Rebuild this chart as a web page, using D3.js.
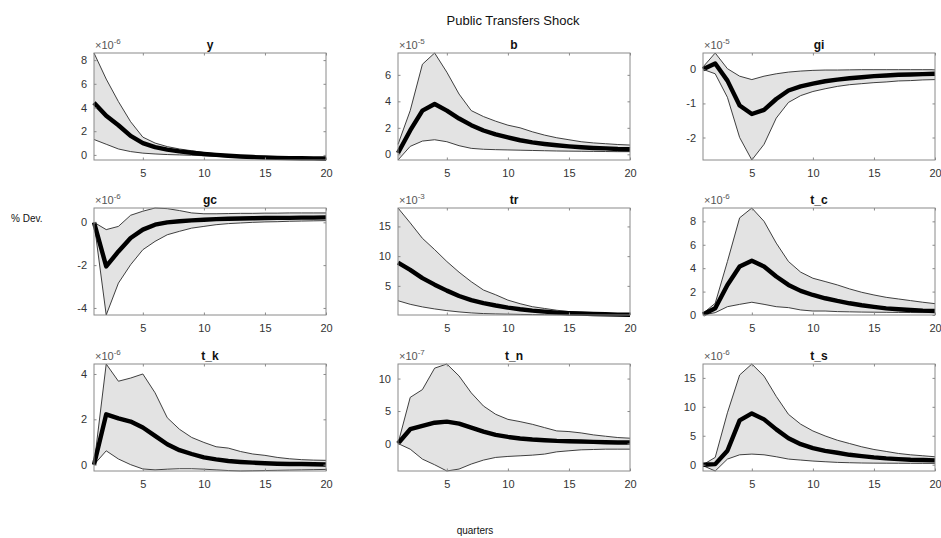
<!DOCTYPE html>
<html>
<head>
<meta charset="utf-8">
<script src="https://cdn.jsdelivr.net/npm/d3@7"></script>
<style>
  html, body { margin: 0; padding: 0; background: #fff; }
  svg { display: block; font-family: "Liberation Sans", Arial, sans-serif; }
</style>
</head>
<body>
<svg id="chart" width="941" height="538"></svg>
<script>
// Impulse responses to a public transfers shock, quarters 1..20.
// Values are in units of 10^exponent (see panelExponents).
const quarters = d3.range(1, 21);
const panelNames = ["y", "b", "gi", "gc", "tr", "t_c", "t_k", "t_n", "t_s"];
const panelExponents = [-6, -5, -5, -6, -3, -6, -6, -7, -6];
const xTicks = [5, 10, 15, 20];
const yTicks = [
  [0, 2, 4, 6, 8],
  [0, 2, 4, 6],
  [-2, -1, 0],
  [-4, -2, 0],
  [5, 10, 15],
  [0, 2, 4, 6, 8],
  [0, 2, 4],
  [0, 5, 10],
  [0, 5, 10, 15]
];

// median responses
const median_y  = [4.4, 3.3, 2.5, 1.6, 1.0, 0.65, 0.45, 0.3, 0.18, 0.08, 0.0, -0.07, -0.13, -0.18, -0.22, -0.25, -0.27, -0.28, -0.29, -0.3];
const median_b  = [0.1, 1.8, 3.3, 3.8, 3.3, 2.7, 2.2, 1.8, 1.5, 1.27, 1.06, 0.9, 0.78, 0.68, 0.6, 0.53, 0.48, 0.45, 0.4, 0.38];
const median_gi = [0.0, 0.17, -0.33, -1.06, -1.31, -1.19, -0.87, -0.62, -0.5, -0.42, -0.35, -0.3, -0.26, -0.23, -0.2, -0.18, -0.16, -0.15, -0.14, -0.13];
const median_gc = [0.0, -2.06, -1.36, -0.73, -0.34, -0.11, 0.0, 0.05, 0.09, 0.12, 0.15, 0.17, 0.18, 0.19, 0.2, 0.21, 0.21, 0.22, 0.22, 0.23];
const median_tr = [8.9, 7.7, 6.3, 5.2, 4.2, 3.3, 2.6, 2.1, 1.7, 1.35, 1.07, 0.84, 0.67, 0.5, 0.4, 0.34, 0.28, 0.22, 0.17, 0.15];
const median_tc = [0.05, 0.57, 2.57, 4.14, 4.63, 4.14, 3.29, 2.57, 2.06, 1.71, 1.43, 1.2, 1.0, 0.83, 0.69, 0.57, 0.49, 0.43, 0.37, 0.34];
const median_tk = [0.0, 2.22, 2.04, 1.9, 1.64, 1.27, 0.9, 0.64, 0.47, 0.32, 0.23, 0.16, 0.12, 0.09, 0.06, 0.04, 0.03, 0.03, 0.02, 0.01];
const median_tn = [0.0, 2.2, 2.7, 3.2, 3.37, 3.06, 2.45, 1.84, 1.33, 1.02, 0.77, 0.61, 0.51, 0.41, 0.36, 0.31, 0.26, 0.2, 0.15, 0.15];
const median_ts = [0.0, 0.1, 2.4, 7.66, 8.86, 7.83, 6.1, 4.57, 3.54, 2.86, 2.4, 2.06, 1.71, 1.49, 1.26, 1.09, 0.97, 0.86, 0.8, 0.74];

// upper bounds of the confidence bands
const upper_y  = [8.6, 6.4, 4.5, 2.8, 1.5, 1.0, 0.7, 0.5, 0.35, 0.2, 0.1, 0.0, -0.07, -0.12, -0.16, -0.19, -0.21, -0.22, -0.23, -0.24];
const upper_b  = [0.75, 3.3, 6.8, 7.65, 6.2, 4.55, 3.3, 2.85, 2.5, 2.2, 2.0, 1.7, 1.45, 1.25, 1.1, 0.95, 0.86, 0.8, 0.74, 0.7];
const upper_gi = [0.07, 0.48, 0.02, -0.2, -0.3, -0.2, -0.13, -0.08, -0.05, -0.03, -0.02, -0.02, -0.015, -0.01, -0.01, -0.01, -0.01, -0.01, -0.01, -0.01];
const upper_gc = [0.0, -0.34, -0.19, 0.33, 0.52, 0.67, 0.64, 0.55, 0.44, 0.4, 0.4, 0.41, 0.42, 0.42, 0.43, 0.43, 0.44, 0.44, 0.44, 0.44];
const upper_tr = [18.1, 15.6, 13.0, 11.1, 9.1, 7.3, 5.7, 4.3, 3.5, 2.6, 2.0, 1.5, 1.2, 0.9, 0.67, 0.5, 0.4, 0.34, 0.28, 0.28];
const upper_tc = [0.14, 1.0, 4.57, 8.3, 9.14, 8.0, 6.14, 4.57, 3.66, 3.14, 2.86, 2.57, 2.23, 1.94, 1.71, 1.51, 1.37, 1.23, 1.09, 0.97];
const upper_tk = [0.0, 4.44, 3.68, 3.82, 4.0, 3.17, 2.07, 1.56, 1.2, 0.98, 0.79, 0.73, 0.58, 0.47, 0.41, 0.32, 0.26, 0.22, 0.2, 0.19];
const upper_tn = [0.0, 7.1, 8.3, 11.6, 12.24, 10.4, 7.8, 5.77, 4.5, 3.72, 3.37, 2.96, 2.45, 1.94, 1.84, 1.63, 1.33, 1.12, 0.92, 0.82];
const upper_ts = [0.0, 1.26, 8.97, 15.5, 17.4, 15.3, 11.8, 8.7, 7.0, 5.83, 4.97, 4.23, 3.66, 3.09, 2.63, 2.29, 1.94, 1.71, 1.54, 1.37];

// lower bounds of the confidence bands
const lower_y  = [1.3, 0.9, 0.5, 0.28, 0.15, 0.08, 0.03, 0.0, -0.03, -0.07, -0.12, -0.17, -0.22, -0.27, -0.3, -0.33, -0.36, -0.38, -0.4, -0.43];
const lower_b  = [-0.43, 0.6, 1.0, 1.1, 0.95, 0.65, 0.45, 0.38, 0.35, 0.33, 0.31, 0.29, 0.27, 0.25, 0.24, 0.23, 0.22, 0.21, 0.2, 0.2];
const lower_gi = [0.0, -0.13, -0.82, -2.0, -2.66, -2.2, -1.43, -0.97, -0.77, -0.65, -0.57, -0.5, -0.45, -0.42, -0.39, -0.37, -0.34, -0.33, -0.31, -0.3];
const lower_gc = [0.0, -4.33, -2.84, -1.98, -1.28, -0.89, -0.58, -0.42, -0.27, -0.19, -0.11, -0.06, -0.03, 0.0, 0.02, 0.03, 0.05, 0.06, 0.07, 0.08];
const lower_tr = [2.5, 1.9, 1.46, 1.12, 0.84, 0.62, 0.45, 0.34, 0.28, 0.24, 0.2, 0.17, 0.15, 0.13, 0.12, 0.11, 0.1, 0.1, 0.1, 0.1];
const lower_tc = [0.0, 0.2, 0.71, 0.91, 1.09, 0.91, 0.71, 0.63, 0.43, 0.34, 0.34, 0.29, 0.27, 0.25, 0.24, 0.23, 0.22, 0.21, 0.2, 0.2];
const lower_tk = [0.0, 0.61, 0.25, 0.0, -0.19, -0.23, -0.2, -0.18, -0.18, -0.2, -0.23, -0.26, -0.28, -0.27, -0.26, -0.25, -0.24, -0.23, -0.22, -0.21];
const lower_tn = [0.0, -0.87, -2.4, -3.27, -4.23, -3.93, -3.16, -2.55, -2.14, -1.99, -1.89, -1.79, -1.63, -1.28, -1.12, -0.97, -0.92, -0.87, -0.87, -0.87];
const lower_ts = [-0.17, -1.09, 0.97, 1.71, 1.83, 1.71, 1.37, 0.97, 0.8, 0.63, 0.51, 0.4, 0.34, 0.29, 0.27, 0.26, 0.25, 0.24, 0.23, 0.23];

const medians = [median_y, median_b, median_gi, median_gc, median_tr, median_tc, median_tk, median_tn, median_ts];
const uppers  = [upper_y, upper_b, upper_gi, upper_gc, upper_tr, upper_tc, upper_tk, upper_tn, upper_ts];
const lowers  = [lower_y, lower_b, lower_gi, lower_gc, lower_tr, lower_tc, lower_tk, lower_tn, lower_ts];

const svg = d3.select("#chart");

const colLeft = [94, 398, 703];
const rowTop = [53, 208, 364];
const pw = 232, ph = 107;
const boxColor = "#8a8a8a";
const textColor = "#333";
const tickLen = 2.5;
const plainNumber = d => String(d);

// figure title and shared axis labels
svg.append("text").attr("x", 513).attr("y", 25).attr("text-anchor", "middle")
  .attr("font-size", 13).attr("fill", "#111").text("Public Transfers Shock");
svg.append("text").attr("x", 11).attr("y", 222)
  .attr("font-size", 10).attr("fill", "#111").text("% Dev.");
svg.append("text").attr("x", 475).attr("y", 534).attr("text-anchor", "middle")
  .attr("font-size", 10).attr("fill", "#111").text("quarters");

panelNames.forEach((name, i) => {
  const left = colLeft[i % 3], top = rowTop[Math.floor(i / 3)];
  const med = medians[i], up = uppers[i], lo = lowers[i];
  const rows = quarters.map((q, k) => ({ q, m: med[k], u: up[k], l: lo[k] }));

  const x = d3.scaleLinear().domain([1, 20]).range([0, pw]);
  const ymin = d3.min(lo.concat(up, med)), ymax = d3.max(lo.concat(up, med));
  const y = d3.scaleLinear().domain([ymin, ymax]).range([ph, 0]);

  const g = svg.append("g").attr("transform", `translate(${left},${top})`);

  // confidence band
  g.append("path").datum(rows)
    .attr("d", d3.area().x(d => x(d.q)).y0(d => y(d.l)).y1(d => y(d.u)))
    .attr("fill", "#e3e3e3").attr("stroke", "none");
  const edge = key => d3.line().x(d => x(d.q)).y(d => y(d[key]));
  ["u", "l"].forEach(key => {
    g.append("path").datum(rows).attr("d", edge(key))
      .attr("fill", "none").attr("stroke", "#2a2a2a").attr("stroke-width", 0.9);
  });
  // median response
  g.append("path").datum(rows).attr("d", edge("m"))
    .attr("fill", "none").attr("stroke", "#000").attr("stroke-width", 4.4)
    .attr("stroke-linejoin", "round");

  // axes: ticks point inward, box on all four sides
  const axB = g.append("g").attr("transform", `translate(0,${ph})`)
    .call(d3.axisBottom(x).tickValues(xTicks).tickFormat(plainNumber)
      .tickSizeInner(-tickLen).tickSizeOuter(0).tickPadding(9));
  const axT = g.append("g")
    .call(d3.axisTop(x).tickValues(xTicks).tickSizeInner(-tickLen).tickSizeOuter(0).tickFormat(""));
  const axL = g.append("g")
    .call(d3.axisLeft(y).tickValues(yTicks[i]).tickFormat(plainNumber)
      .tickSizeInner(-tickLen).tickSizeOuter(0).tickPadding(7));
  const axR = g.append("g").attr("transform", `translate(${pw},0)`)
    .call(d3.axisRight(y).tickValues(yTicks[i]).tickSizeInner(-tickLen).tickSizeOuter(0).tickFormat(""));
  [axB, axT, axL, axR].forEach(a => {
    a.select(".domain").remove();
    a.selectAll("line").attr("stroke", boxColor);
    a.selectAll("text").attr("fill", textColor).attr("font-size", 11)
      .attr("font-family", "Liberation Sans, Arial, sans-serif");
  });
  g.append("rect").attr("width", pw).attr("height", ph)
    .attr("fill", "none").attr("stroke", boxColor).attr("stroke-width", 1);

  // panel title
  g.append("text").attr("x", pw / 2).attr("y", -4).attr("text-anchor", "middle")
    .attr("font-size", 12).attr("font-weight", "bold").attr("fill", "#111").text(name);

  // exponent label
  const ex = g.append("text").attr("x", 1).attr("y", -4)
    .attr("font-size", 11).attr("fill", "#555");
  ex.append("tspan").text("\u00d710");
  ex.append("tspan").attr("dy", -5).attr("font-size", 8).text(String(panelExponents[i]));
});
</script>
</body>
</html>
